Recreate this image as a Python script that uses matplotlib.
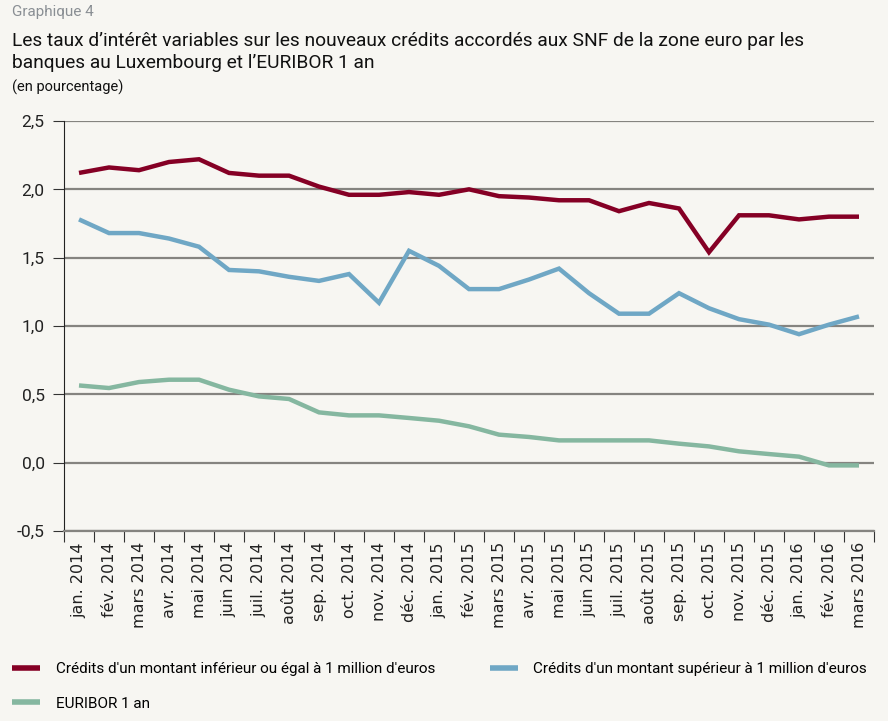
import matplotlib
matplotlib.use("Agg")
import matplotlib.pyplot as plt
import numpy as np

months = ["jan. 2014", "fév. 2014", "mars 2014", "avr. 2014", "mai 2014", "juin 2014",
          "juil. 2014", "août 2014", "sep. 2014", "oct. 2014", "nov. 2014", "déc. 2014",
          "jan. 2015", "fév. 2015", "mars 2015", "avr. 2015", "mai 2015", "juin 2015",
          "juil. 2015", "août 2015", "sep. 2015", "oct. 2015", "nov. 2015", "déc. 2015",
          "jan. 2016", "fév. 2016", "mars 2016"]

small_loans = [2.12, 2.16, 2.14, 2.20, 2.22, 2.12, 2.10, 2.10, 2.02, 1.96, 1.96, 1.98,
               1.96, 2.00, 1.95, 1.94, 1.92, 1.92, 1.84, 1.90, 1.86, 1.54, 1.81, 1.81,
               1.78, 1.80, 1.80]
large_loans = [1.78, 1.68, 1.68, 1.64, 1.58, 1.41, 1.40, 1.36, 1.33, 1.38, 1.17, 1.55,
               1.44, 1.27, 1.27, 1.34, 1.42, 1.24, 1.09, 1.09, 1.24, 1.13, 1.05, 1.01,
               0.94, 1.01, 1.07]
euribor = [0.565, 0.546, 0.59, 0.607, 0.607, 0.534, 0.485, 0.466, 0.368, 0.346, 0.346, 0.327,
           0.307, 0.266, 0.205, 0.188, 0.163, 0.163, 0.163, 0.163, 0.139, 0.119, 0.083, 0.063,
           0.044, -0.02, -0.02]

labels = ["Crédits d'un montant inférieur ou égal à 1 million d'euros",
          "Crédits d'un montant supérieur à 1 million d'euros",
          "EURIBOR 1 an"]
colors = ["#850025", "#6fa7c5", "#85b7a0"]

yticks = [-0.5, 0.0, 0.5, 1.0, 1.5, 2.0, 2.5]
ytick_labels = ["-0,5", "0,0", "0,5", "1,0", "1,5", "2,0", "2,5"]

main_font = "Roboto"

bg = "#f7f6f2"
fig = plt.figure(figsize=(8.88, 7.21), dpi=100, facecolor=bg)
ax = fig.add_axes([64/888, 1 - 531/721, 810/888, 410/721])
ax.set_facecolor(bg)

x = np.arange(len(months))
lines = []
for series, c, lab in zip([small_loans, large_loans, euribor], colors, labels):
    ln, = ax.plot(x, series, color=c, lw=3.2, label=lab, solid_capstyle="butt",
                  solid_joinstyle="miter")
    lines.append(ln)

ax.set_xlim(-0.5, len(months) - 0.5)
ax.set_ylim(-0.5, 2.5)
ax.set_yticks(yticks)
ax.set_yticklabels(ytick_labels, fontsize=12.5, family=main_font, color="#222222")
ax.yaxis.grid(True, color="#858480", lw=1.6)
ax.set_axisbelow(True)

ax.set_xticks(x)
ax.set_xticklabels(months, rotation=90, fontsize=11.5, family="DejaVu Sans", color="#222222")
ax.tick_params(axis="x", which="major", length=0, pad=8)
ax.set_xticks(np.arange(-0.5, len(months), 1.0), minor=True)
ax.tick_params(axis="x", which="minor", length=8, width=0.8, color="#333333")
ax.tick_params(axis="y", length=8, width=0.8, color="#333333", pad=6)

for s in ["top", "right"]:
    ax.spines[s].set_visible(False)
ax.spines["bottom"].set_color("#858480")
ax.spines["bottom"].set_linewidth(1.6)
ax.spines["left"].set_color("#222222")
ax.spines["left"].set_linewidth(0.8)

fig.text(12/888, 1 - 5/721, "Graphique 4", fontsize=11, color="#8a8f94", family=main_font, va="top")
fig.text(12/888, 1 - 32/721, "Les taux d’intérêt variables sur les nouveaux crédits accordés aux SNF de la zone euro par les\nbanques au Luxembourg et l’EURIBOR 1 an",
         fontsize=13.8, color="#111111", family=main_font, va="top", linespacing=1.25)
fig.text(12/888, 1 - 80/721, "(en pourcentage)", fontsize=10.5, color="#111111", family=main_font, va="top")

order = [lines[0], lines[2], lines[1]]
leg = fig.legend(order, [l.get_label() for l in order], loc="upper left",
                 bbox_to_anchor=(12/888, 1 - 662/721), ncol=2, borderpad=0, borderaxespad=0,
                 frameon=False, handlelength=1.85, handletextpad=1.0, columnspacing=3.6,
                 labelspacing=1.35, prop={"family": main_font, "size": 11})
for line in leg.get_lines():
    line.set_linewidth(4)

fig.savefig("out.png", dpi=100, facecolor=bg)
